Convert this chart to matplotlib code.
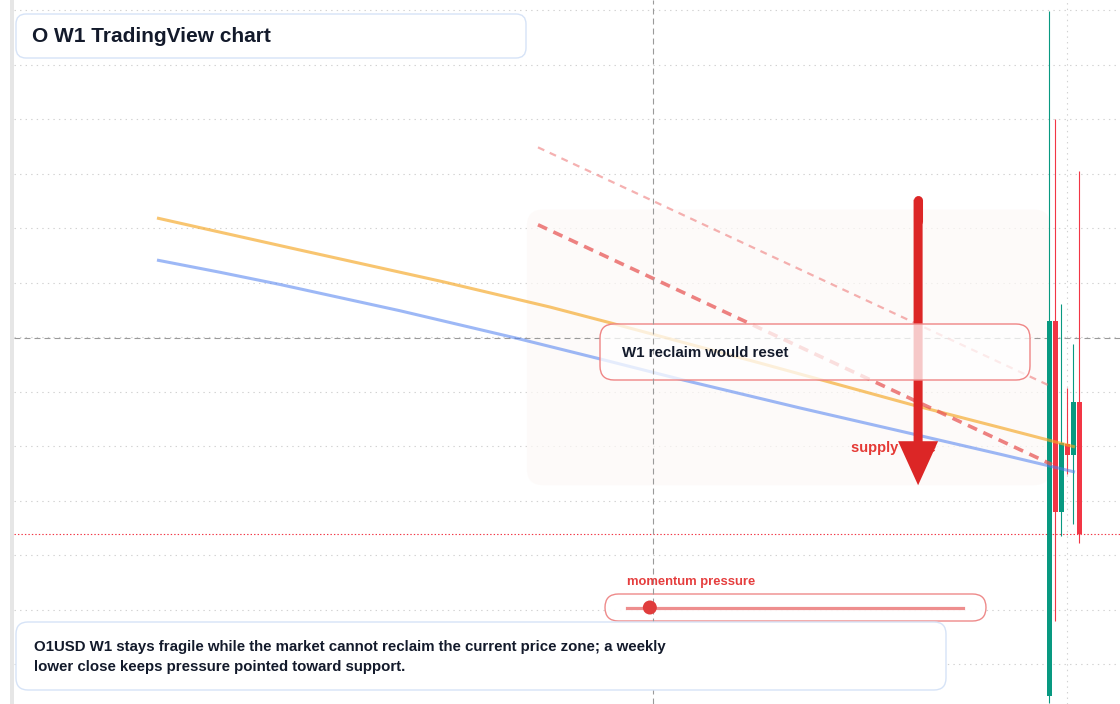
import matplotlib
matplotlib.use("Agg")
import matplotlib.pyplot as plt
from matplotlib.patches import FancyBboxPatch, Rectangle, Circle
from matplotlib.lines import Line2D
import numpy as np

plt.rcParams['font.family'] = ['Liberation Sans', 'DejaVu Sans']
plt.rcParams['lines.scale_dashes'] = False

# weekly candles, bar index 0 = first visible week
bars = [0, 1, 2, 3, 4, 5]
opens = [0.371, 0.715, 0.539, 0.602, 0.592, 0.640]
highs = [0.999, 0.900, 0.730, 0.653, 0.694, 0.852]
lows = [0.364, 0.439, 0.517, 0.574, 0.528, 0.511]
closes = [0.715, 0.539, 0.603, 0.592, 0.640, 0.519]

# moving averages (bar index, price)
ma_fast_x = [-148.75, -141.08, -124.92, -101.08, -83.25, -72.92, -48.25, -22.75, -8.25, 4.25]
ma_fast_y = [0.8092, 0.7997, 0.7798, 0.7507, 0.7275, 0.7126, 0.6761, 0.6376, 0.6170, 0.5991]
ma_slow_x = [-148.75, -138.25, -128.25, -108.25, -88.75, -74.92, -61.08, -41.58, -22.75, -8.25, 4.25]
ma_slow_y = [0.7706, 0.7594, 0.7482, 0.7241, 0.6988, 0.6799, 0.6606, 0.6349, 0.6110, 0.5925, 0.5761]

# descending trend lines
upper_tl_x = [-85.25, -0.25]
upper_tl_y = [0.874, 0.656]
lower_tl_x = [-85.25, 0.4]
lower_tl_y = [0.803, 0.583]

crosshair_x = -66.1
crosshair_y = 0.699
last_close = closes[-1]

zone_x = [-87.1, 0.1]
zone_y = [0.564, 0.817]
arrow_x = -21.9
arrow_from = 0.826
arrow_to = 0.564
momentum = 0.068  # position of the dot on the gauge, 0..1

title = "O W1 TradingView chart"
note = "W1 reclaim would reset"
summary = ["O1USD W1 stays fragile while the market cannot reclaim the current price zone; a weekly",
           "lower close keeps pressure pointed toward support."]

GREEN = '#089981'
RED = '#f23645'
INK = '#131a2b'

fig = plt.figure(figsize=(11.2, 7.04), dpi=100)
ax = fig.add_axes([14 / 1120, 0, 1106 / 1120, 1])
ax.set_xlim(-172.58, 11.75)
ax.set_ylim(0.3633, 1.0092)
for s in ax.spines.values():
    s.set_visible(False)
ax.set_yticks(np.arange(0.40, 1.001, 0.05))
ax.set_xticks([3])
ax.tick_params(length=0, labelleft=False, labelbottom=False)
ax.grid(True, ls=(0, (1, 3)), color='#d2d2d2', lw=0.8)
ax.set_axisbelow(True)
px = fig.dpi_scale_trans  # inches, so pixel/100

# supply zone
zone = FancyBboxPatch((zone_x[0], zone_y[0]), zone_x[1] - zone_x[0], zone_y[1] - zone_y[0],
                      boxstyle='round,pad=0,rounding_size=2.7', mutation_aspect=6 / 1090,
                      facecolor='#fdf9f7', edgecolor='none', alpha=0.7, zorder=1)
ax.add_patch(zone)

# crosshair + last close
ax.axhline(crosshair_y, color='#9a9a9a', lw=0.8, ls=(0, (4.3, 2.9)), zorder=2)
ax.axvline(crosshair_x, color='#9a9a9a', lw=0.8, ls=(0, (4.3, 2.9)), zorder=9)
ax.axhline(last_close, color=RED, lw=0.8, ls=(0, (1, 1.5)), zorder=2)

# candles
for x, o, h, l, c in zip(bars, opens, highs, lows, closes):
    col = GREEN if c >= o else RED
    ax.vlines(x, l, h, color=col, lw=0.8, zorder=3)
    ax.bar(x, abs(c - o), bottom=min(o, c), width=0.83, color=col, zorder=3)

# moving averages and trend lines
ax.plot(ma_fast_x, ma_fast_y, color='#f5a623', alpha=0.65, lw=2.2, zorder=4,
        solid_joinstyle='round', solid_capstyle='butt')
ax.plot(ma_slow_x, ma_slow_y, color='#4d7ff0', alpha=0.55, lw=2.2, zorder=4,
        solid_joinstyle='round', solid_capstyle='butt')
ax.plot(upper_tl_x, upper_tl_y, color='#ef7d7d', alpha=0.6, lw=1.6, ls=(0, (5, 4.3)), zorder=4)
ax.plot(lower_tl_x, lower_tl_y, color='#e85858', alpha=0.75, lw=2.6, ls=(0, (7.2, 5)), zorder=4)

ax.text(-33.1, 0.598, 'supply zone', color='#e53935', fontsize=10.5, weight='bold',
        ha='left', va='center', zorder=6)

# bearish arrow
ax.annotate('', xy=(arrow_x, arrow_to), xytext=(arrow_x, arrow_from),
            arrowprops=dict(arrowstyle='simple,head_length=3.17,head_width=2.88,tail_width=0.65',
                            mutation_scale=10, color='#dc2626', lw=0, shrinkA=0, shrinkB=0),
            zorder=7)
ax.plot([arrow_x, arrow_x], [arrow_from, arrow_from - 0.02], color='#dc2626', lw=6.5,
        solid_capstyle='round', zorder=7)


def rbox(target, x0, y0, x1, y1, r, zorder, **kw):
    # pixel box, top-left origin -> inches
    p = FancyBboxPatch((x0 / 100, (704 - y1) / 100), (x1 - x0) / 100, (y1 - y0) / 100,
                       boxstyle=f'round,pad=0,rounding_size={r / 100}',
                       transform=px, zorder=zorder, **kw)
    if target is fig:
        fig.add_artist(p)
    else:
        target.add_patch(p)


def ptext(target, x, y, s, **kw):
    target.text(x / 100, (704 - y) / 100, s, transform=px, ha='left', va='center', **kw)


# callout over the chart
rbox(ax, 600, 324, 1030, 380, 14, 8, facecolor=(1, 1, 1, 0.75), edgecolor='#ef8585', lw=1)
ptext(ax, 622, 353, note, fontsize=10.82, weight='bold', color=INK, zorder=10)

# momentum gauge
ptext(ax, 627, 582, 'momentum pressure', fontsize=9.35, weight='bold', color='#e53e3e', zorder=10)
rbox(ax, 605, 594, 986, 621, 13.5, 8, facecolor=(1, 1, 1, 0.92), edgecolor='#ee8a8a', lw=1)
ax.add_line(Line2D([6.27, 9.63], [(704 - 607.5) / 100] * 2, transform=px,
                   color='#ec7a7a', alpha=0.85, lw=2.3, zorder=8.5))
dot_x = 627 + momentum * (963 - 627)
ax.add_patch(Circle((dot_x / 100, (704 - 607.5) / 100), 0.07, transform=px,
                    facecolor='#e03c3c', edgecolor='none', zorder=10))

# left border strip
fig.add_artist(Rectangle((0.10, 0), 0.04, 7.04, transform=px,
                         facecolor='#e6e6e6', edgecolor='none', zorder=3))

# title card
rbox(fig, 16, 14, 526, 58, 10, 3, facecolor='white', edgecolor='#d6e3f7', lw=1)
ptext(fig, 32, 36, title, fontsize=15, weight='bold', color=INK, zorder=4)

# summary card
rbox(fig, 16, 622, 946, 690, 12, 3, facecolor='white', edgecolor='#d6e3f7', lw=1)
ptext(fig, 34, 647, summary[0], fontsize=10.82, weight='bold', color=INK, zorder=4)
ptext(fig, 34, 667, summary[1], fontsize=10.82, weight='bold', color=INK, zorder=4)

fig.savefig('out.png', dpi=100)
